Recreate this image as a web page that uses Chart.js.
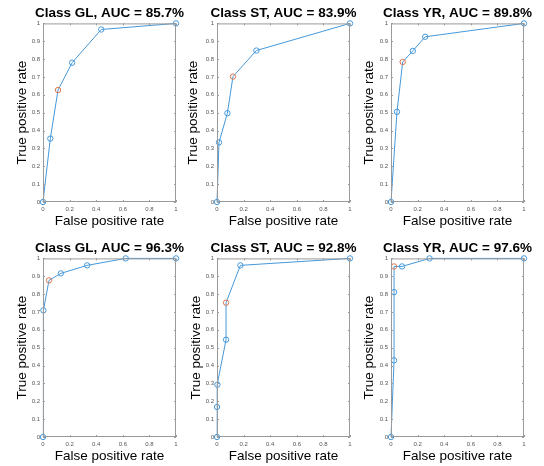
<!DOCTYPE html>
<html>
<head>
<meta charset="utf-8">
<script src="https://cdn.jsdelivr.net/npm/chart.js@4.4.0/dist/chart.umd.min.js"></script>
<style>
  html, body { margin: 0; padding: 0; background: #fff; overflow: hidden; }
  #wrap { position: relative; width: 544px; height: 466px; overflow: hidden; }
  canvas { position: absolute; }
</style>
</head>
<body>
<div id="wrap"></div>
<script>
// tick labels shared by every panel
const xTicks = [0, 0.2, 0.4, 0.6, 0.8, 1];
const yTicks = [0, 0.1, 0.2, 0.3, 0.4, 0.5, 0.6, 0.7, 0.8, 0.9, 1];

// panel titles
const titles = [
  'Class GL, AUC = 85.7%', 'Class ST, AUC = 83.9%', 'Class YR, AUC = 89.8%',
  'Class GL, AUC = 96.3%', 'Class ST, AUC = 92.8%', 'Class YR, AUC = 97.6%'
];

// ROC points
const fprGL1 = [0, 0.055, 0.113, 0.219, 0.438, 1];
const tprGL1 = [0, 0.355, 0.627, 0.780, 0.966, 1];
const fprST1 = [0, 0.015, 0.078, 0.120, 0.296, 1];
const tprST1 = [0, 0.334, 0.497, 0.702, 0.848, 1];
const fprYR1 = [0, 0.045, 0.088, 0.164, 0.257, 1];
const tprYR1 = [0, 0.505, 0.784, 0.846, 0.925, 1];
const fprGL2 = [0, 0.003, 0.045, 0.134, 0.332, 0.622, 1];
const tprGL2 = [0, 0.709, 0.877, 0.916, 0.961, 1, 1];
const fprST2 = [0, 0, 0.003, 0.068, 0.068, 0.176, 1];
const tprST2 = [0, 0.168, 0.293, 0.545, 0.752, 0.961, 1];
const fprYR2 = [0, 0.023, 0.023, 0.023, 0.083, 0.290, 1];
const tprYR2 = [0, 0.429, 0.811, 0.955, 0.955, 1, 1];

// index of the operating point (red marker) in each curve
const opPoint = [2, 3, 2, 2, 4, 3];

const curves = [
  [fprGL1, tprGL1], [fprST1, tprST1], [fprYR1, tprYR1],
  [fprGL2, tprGL2], [fprST2, tprST2], [fprYR2, tprYR2]
];

const panelLeft = [0, 174, 348, 0, 174, 348];
const panelTop = [0, 0, 0, 235, 235, 235];
const yTitlePad = [14.6, 11, 13.6, 14.6, 14, 13.6];

const FONT = "'Liberation Sans', Arial, sans-serif";
const BLUE = '#4598da';
const RED = '#e0774f';
const AXIS = '#9a9a9a';

// MATLAB style box with inward ticks
const boxPlugin = {
  id: 'box',
  afterDraw(chart) {
    const { ctx, chartArea: a, scales } = chart;
    ctx.save();
    ctx.strokeStyle = AXIS;
    ctx.lineWidth = 1;
    ctx.strokeRect(a.left + 0.5, a.top + 0.5, a.right - a.left - 1, a.bottom - a.top - 1);
    ctx.beginPath();
    xTicks.forEach(v => {
      const x = Math.round(scales.x.getPixelForValue(v)) + 0.5;
      ctx.moveTo(x, a.bottom); ctx.lineTo(x, a.bottom - 2);
      ctx.moveTo(x, a.top); ctx.lineTo(x, a.top + 2);
    });
    yTicks.forEach(v => {
      const y = Math.round(scales.y.getPixelForValue(v)) + 0.5;
      ctx.moveTo(a.left, y); ctx.lineTo(a.left + 2, y);
      ctx.moveTo(a.right, y); ctx.lineTo(a.right - 2, y);
    });
    ctx.stroke();
    ctx.restore();
  }
};

const wrap = document.getElementById('wrap');

curves.forEach((c, i) => {
  const canvas = document.createElement('canvas');
  canvas.width = 219;
  canvas.height = 233;
  canvas.style.left = panelLeft[i] + 'px';
  canvas.style.top = panelTop[i] + 'px';
  wrap.appendChild(canvas);

  const pts = c[0].map((x, k) => ({ x: x, y: c[1][k] }));
  const colors = pts.map((p, k) => k === opPoint[i] ? RED : BLUE);

  new Chart(canvas, {
    type: 'scatter',
    data: {
      datasets: [{
        data: pts,
        showLine: true,
        borderColor: BLUE,
        borderWidth: 1,
        pointRadius: 2.7,
        pointBorderWidth: 1,
        pointBorderColor: colors,
        pointBackgroundColor: 'rgba(0,0,0,0)',
        clip: false
      }]
    },
    options: {
      responsive: false,
      animation: false,
      layout: { padding: 0 },
      plugins: {
        legend: { display: false },
        tooltip: { enabled: false },
        title: {
          display: true,
          text: titles[i],
          color: '#000',
          font: { family: FONT, size: 13.5, weight: 'bold' },
          padding: { top: 5.6, bottom: 1.6 }
        }
      },
      scales: {
        x: {
          type: 'linear',
          min: 0, max: 1,
          afterBuildTicks: s => { s.ticks = xTicks.map(v => ({ value: v })); },
          afterFit: s => { s.height = 31; },
          grid: { display: false, drawTicks: false },
          border: { display: false },
          ticks: {
            color: '#555',
            font: { family: FONT, size: 6 },
            padding: 4,
            maxRotation: 0,
            autoSkip: false,
            callback: v => String(v)
          },
          title: {
            display: true,
            text: 'False positive rate',
            color: '#000',
            font: { family: FONT, size: 13.5 },
            padding: { top: 0, bottom: 3.2 }
          }
        },
        y: {
          type: 'linear',
          min: 0, max: 1,
          afterBuildTicks: s => { s.ticks = yTicks.map(v => ({ value: v })); },
          afterFit: s => { s.width = 43; },
          grid: { display: false, drawTicks: false },
          border: { display: false },
          ticks: {
            color: '#555',
            font: { family: FONT, size: 6 },
            padding: 3,
            autoSkip: false,
            callback: v => String(v)
          },
          title: {
            display: true,
            text: 'True positive rate',
            color: '#000',
            font: { family: FONT, size: 13.5 },
            padding: { top: yTitlePad[i], bottom: 0 }
          }
        },
        // empty right-hand axis, only keeps the plot box centred under the title
        yRight: {
          type: 'linear',
          position: 'right',
          min: 0, max: 1,
          afterFit: s => { s.width = 43; },
          grid: { display: false, drawTicks: false },
          border: { display: false },
          ticks: { display: false }
        }
      }
    },
    plugins: [boxPlugin]
  });
});
</script>
</body>
</html>
